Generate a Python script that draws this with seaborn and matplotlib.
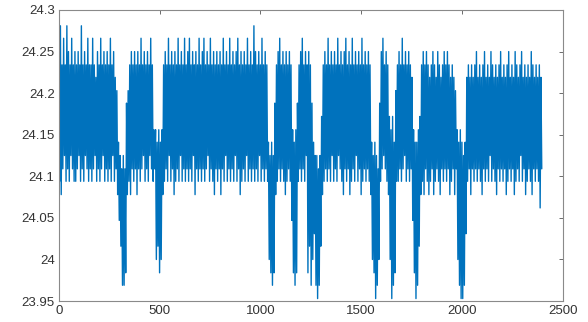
import numpy as np
import pandas as pd
import matplotlib
matplotlib.use("Agg")
import matplotlib.pyplot as plt
import seaborn as sns
from matplotlib.ticker import FuncFormatter

## data: readings taken every 4 samples (one row = 80 samples)
sample_step = 4
readings = [
    24.188, 24.094, 24.281, 24.078, 24.234, 24.109, 24.266, 24.125, 24.234, 24.094, 24.281, 24.109, 24.25, 24.094, 24.234, 24.125, 24.266, 24.109, 24.234, 24.094,
    24.25, 24.094, 24.234, 24.109, 24.25, 24.125, 24.234, 24.094, 24.281, 24.109, 24.234, 24.094, 24.25, 24.125, 24.234, 24.109, 24.266, 24.094, 24.234, 24.109,
    24.234, 24.094, 24.266, 24.109, 24.234, 24.125, 24.219, 24.094, 24.25, 24.109, 24.234, 24.094, 24.266, 24.109, 24.234, 24.125, 24.25, 24.094, 24.234, 24.109,
    24.25, 24.094, 24.234, 24.109, 24.266, 24.094, 24.234, 24.125, 24.25, 24.094, 24.219, 24.109, 24.203, 24.078, 24.141, 24.047, 24.125, 24.016, 24.109, 23.969,
    24.125, 23.969, 24.109, 23.984, 24.188, 24.078, 24.203, 24.094, 24.234, 24.078, 24.25, 24.109, 24.234, 24.094, 24.25, 24.109, 24.234, 24.078, 24.25, 24.109,
    24.234, 24.094, 24.266, 24.109, 24.234, 24.125, 24.25, 24.094, 24.234, 24.109, 24.25, 24.094, 24.234, 24.125, 24.266, 24.109, 24.234, 24.094, 24.156, 24.109,
    24.156, 24.0, 24.141, 24.016, 24.156, 23.984, 24.141, 24.0, 24.156, 24.078, 24.234, 24.094, 24.25, 24.109, 24.234, 24.094, 24.266, 24.125, 24.234, 24.094,
    24.25, 24.109, 24.234, 24.078, 24.25, 24.094, 24.234, 24.109, 24.266, 24.094, 24.234, 24.125, 24.25, 24.094, 24.234, 24.109, 24.266, 24.094, 24.234, 24.109,
    24.25, 24.094, 24.266, 24.109, 24.234, 24.094, 24.25, 24.125, 24.234, 24.078, 24.25, 24.109, 24.234, 24.094, 24.266, 24.109, 24.234, 24.094, 24.25, 24.109,
    24.266, 24.094, 24.234, 24.109, 24.25, 24.125, 24.234, 24.094, 24.266, 24.109, 24.234, 24.094, 24.25, 24.078, 24.234, 24.109, 24.25, 24.094, 24.234, 24.109,
    24.25, 24.078, 24.234, 24.109, 24.266, 24.094, 24.234, 24.125, 24.25, 24.094, 24.234, 24.109, 24.266, 24.094, 24.234, 24.109, 24.25, 24.094, 24.234, 24.125,
    24.25, 24.094, 24.266, 24.109, 24.234, 24.078, 24.25, 24.094, 24.234, 24.109, 24.25, 24.094, 24.234, 24.125, 24.266, 24.094, 24.234, 24.109, 24.25, 24.094,
    24.234, 24.109, 24.281, 24.094, 24.25, 24.109, 24.234, 24.094, 24.25, 24.125, 24.234, 24.094, 24.266, 24.109, 24.234, 24.094, 24.25, 24.109, 24.234, 24.094,
    24.141, 24.0, 24.125, 23.984, 24.141, 23.969, 24.125, 23.984, 24.188, 24.078, 24.234, 24.094, 24.25, 24.109, 24.266, 24.094, 24.234, 24.109, 24.25, 24.094,
    24.234, 24.078, 24.25, 24.094, 24.234, 24.109, 24.25, 24.094, 24.234, 24.047, 24.156, 23.984, 24.141, 23.969, 24.156, 23.984, 24.188, 24.094, 24.234, 24.109,
    24.25, 24.094, 24.266, 24.109, 24.234, 24.094, 24.25, 24.125, 24.234, 23.984, 24.25, 24.016, 24.234, 23.969, 24.188, 24.0, 24.141, 24.031, 24.125, 23.969,
    24.125, 23.953, 24.109, 23.969, 24.125, 24.016, 24.172, 24.078, 24.234, 24.094, 24.25, 24.109, 24.234, 24.094, 24.266, 24.109, 24.234, 24.094, 24.25, 24.125,
    24.234, 24.094, 24.25, 24.109, 24.234, 24.094, 24.266, 24.125, 24.234, 24.109, 24.25, 24.094, 24.234, 24.078, 24.25, 24.109, 24.266, 24.094, 24.234, 24.109,
    24.25, 24.078, 24.234, 24.094, 24.266, 24.109, 24.234, 24.094, 24.25, 24.125, 24.234, 24.094, 24.25, 24.109, 24.234, 24.078, 24.266, 24.094, 24.234, 24.109,
    24.25, 24.094, 24.234, 24.109, 24.25, 24.094, 24.234, 24.078, 24.141, 24.0, 24.125, 23.984, 24.141, 23.953, 24.125, 23.969, 24.109, 24.0, 24.188, 24.094,
    24.25, 24.109, 24.266, 24.125, 24.234, 24.109, 24.25, 24.094, 24.234, 24.078, 24.172, 24.0, 24.156, 23.953, 24.172, 23.969, 24.141, 23.984, 24.203, 24.094,
    24.234, 24.094, 24.25, 24.109, 24.234, 24.094, 24.266, 24.109, 24.234, 24.125, 24.25, 24.094, 24.234, 24.109, 24.25, 24.094, 24.234, 24.109, 24.219, 24.047,
    24.156, 23.984, 24.141, 23.953, 24.141, 23.969, 24.156, 24.016, 24.172, 24.078, 24.234, 24.094, 24.25, 24.078, 24.234, 24.109, 24.25, 24.094, 24.234, 24.078,
    24.219, 24.094, 24.234, 24.109, 24.25, 24.078, 24.234, 24.094, 24.219, 24.109, 24.25, 24.094, 24.234, 24.078, 24.219, 24.109, 24.234, 24.094, 24.25, 24.109,
    24.234, 24.094, 24.25, 24.109, 24.234, 24.078, 24.219, 24.094, 24.234, 24.109, 24.219, 24.078, 24.203, 24.109, 24.156, 24.0, 24.141, 23.969, 24.156, 23.953,
    24.141, 23.953, 24.125, 23.969, 24.141, 24.031, 24.219, 24.094, 24.234, 24.109, 24.219, 24.078, 24.234, 24.109, 24.219, 24.094, 24.234, 24.109, 24.25, 24.094,
    24.219, 24.109, 24.234, 24.094, 24.219, 24.078, 24.234, 24.109, 24.25, 24.094, 24.219, 24.109, 24.234, 24.094, 24.219, 24.125, 24.25, 24.094, 24.234, 24.109,
    24.219, 24.094, 24.234, 24.078, 24.219, 24.109, 24.234, 24.094, 24.25, 24.109, 24.219, 24.094, 24.234, 24.109, 24.219, 24.078, 24.234, 24.094, 24.25, 24.109,
    24.219, 24.094, 24.234, 24.109, 24.219, 24.078, 24.25, 24.094, 24.234, 24.109, 24.219, 24.094, 24.234, 24.125, 24.25, 24.094, 24.219, 24.109, 24.234, 24.078,
    24.219, 24.094, 24.234, 24.109, 24.219, 24.094, 24.25, 24.078, 24.234, 24.109, 24.219, 24.094, 24.234, 24.109, 24.219, 24.094, 24.234, 24.062, 24.219, 24.109,
]
x_ticks = [0, 500, 1000, 1500, 2000, 2500]
y_ticks = [23.95, 24.0, 24.05, 24.1, 24.15, 24.2, 24.25, 24.3]

df = pd.DataFrame({"sample": np.arange(len(readings)) * sample_step, "value": readings})

sns.set_theme(style="white")
plt.rcParams['font.family'] = ['Liberation Sans', 'DejaVu Sans']

fig = plt.figure(figsize=(5.88, 3.22), dpi=100)
ax = fig.add_axes([0.100, 0.065, 0.857, 0.904])

sns.lineplot(data=df, x="sample", y="value", ax=ax, color="#0072BD", linewidth=1.0)

ax.set_xlim(0, 2500)
ax.set_ylim(23.95, 24.3)
ax.set_xticks(x_ticks)
ax.set_yticks(y_ticks)
ax.yaxis.set_major_formatter(FuncFormatter(lambda v, p: f"{v:g}"))
ax.set_xlabel("")
ax.set_ylabel("")

for s in ax.spines.values():
    s.set_visible(True)
    s.set_color("#8a8a8a")
    s.set_linewidth(0.8)
ax.tick_params(direction="in", length=3, width=0.6, color="#555555",
               top=True, right=True, labelsize=9.5, labelcolor="#333333", pad=3)

plt.savefig("out.png", dpi=100)
